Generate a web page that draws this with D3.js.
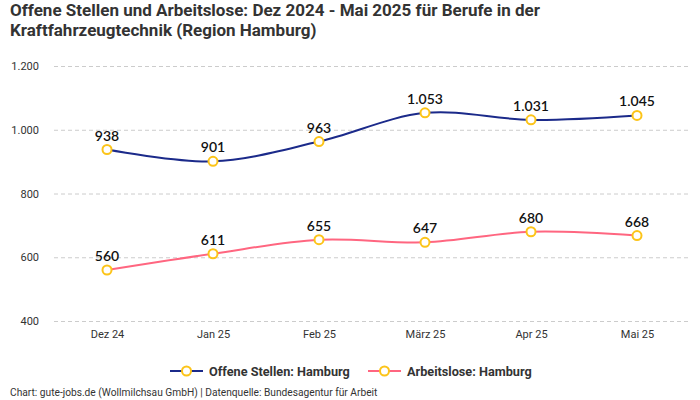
<!DOCTYPE html>
<html>
<head>
<meta charset="utf-8">
<script src="https://cdn.jsdelivr.net/npm/d3@7"></script>
<style>
  body { margin: 0; background: #fff; }
  svg { display: block; }
</style>
</head>
<body>
<script>
// chart data
const months = ["Dez 24", "Jan 25", "Feb 25", "März 25", "Apr 25", "Mai 25"];
const offeneStellen = [938, 901, 963, 1053, 1031, 1045];
const arbeitslose = [560, 611, 655, 647, 680, 668];
const yTicks = [400, 600, 800, 1000, 1200];
const seriesNames = ["Offene Stellen: Hamburg", "Arbeitslose: Hamburg"];
const titleLines = ["Offene Stellen und Arbeitslose: Dez 2024 - Mai 2025 für Berufe in der",
                    "Kraftfahrzeugtechnik (Region Hamburg)"];

const w = 700, h = 400;
const colors = ["#1b2a8a", "#ff6680"];
const markerColor = "#fcc419";
const fmt = d3.formatLocale({decimal: ",", thousands: ".", grouping: [3], currency: ["", "€"]}).format(",");

const svg = d3.select("body").append("svg")
  .attr("width", w)
  .attr("height", h);

// title, one text per line
svg.selectAll(".title")
  .data(titleLines)
  .enter()
  .append("text")
  .attr("class", "title")
  .attr("x", 10)
  .attr("y", (d, i) => 16 + i * 19.5)
  .attr("font-family", "Roboto, sans-serif")
  .attr("font-weight", "bold")
  .attr("font-size", 17)
  .attr("fill", "#333")
  .text(d => d);

const xScale = d3.scalePoint()
  .domain(months)
  .range([54, 690])
  .padding(0.5);

const yScale = d3.scaleLinear()
  .domain([400, 1200])
  .range([321, 66]);

// grid lines
svg.append("g")
  .selectAll("line")
  .data(yTicks)
  .enter()
  .append("line")
  .attr("x1", 54)
  .attr("x2", 690)
  .attr("y1", d => yScale(d) + 0.5)
  .attr("y2", d => yScale(d) + 0.5)
  .attr("stroke", "#cccccc")
  .attr("stroke-dasharray", "4,3");

// y axis labels
const yAxis = d3.axisLeft(yScale)
  .tickValues(yTicks)
  .tickFormat(fmt)
  .tickSize(0)
  .tickPadding(0);
svg.append("g")
  .attr("transform", "translate(39,0)")
  .call(yAxis)
  .call(g => g.select(".domain").remove())
  .selectAll("text")
  .attr("font-family", "Roboto, sans-serif")
  .attr("font-size", 11)
  .attr("fill", "#333");

// x axis labels
const xAxis = d3.axisBottom(xScale).tickSize(0).tickPadding(0);
svg.append("g")
  .attr("transform", "translate(0,330)")
  .call(xAxis)
  .call(g => g.select(".domain").remove())
  .selectAll("text")
  .attr("font-family", "Roboto, sans-serif")
  .attr("font-size", 11)
  .attr("fill", "#333");

const line = d3.line()
  .x((d, i) => xScale(months[i]))
  .y(d => yScale(d))
  .curve(d3.curveCatmullRom.alpha(0.5));

[offeneStellen, arbeitslose].forEach((series, s) => {
  svg.append("path")
    .datum(series)
    .attr("d", line)
    .attr("fill", "none")
    .attr("stroke", colors[s])
    .attr("stroke-width", 2);

  svg.append("g")
    .selectAll("circle")
    .data(series)
    .enter()
    .append("circle")
    .attr("cx", (d, i) => xScale(months[i]))
    .attr("cy", d => yScale(d))
    .attr("r", 4.5)
    .attr("fill", "#fff")
    .attr("stroke", markerColor)
    .attr("stroke-width", 2);

  svg.append("g")
    .selectAll("text")
    .data(series)
    .enter()
    .append("text")
    .attr("x", (d, i) => xScale(months[i]))
    .attr("y", d => yScale(d) - 9)
    .attr("text-anchor", "middle")
    .attr("font-family", "Lato, sans-serif")
    .attr("font-weight", 600)
    .attr("font-size", 14)
    .attr("fill", "#111")
    .text(d => fmt(d));
});

// legend
const legendX = [170, 368];
const legend = svg.selectAll(".legend")
  .data(seriesNames)
  .enter()
  .append("g")
  .attr("class", "legend")
  .attr("transform", (d, i) => "translate(" + legendX[i] + ",371)");
legend.append("line")
  .attr("x1", 0).attr("x2", 33)
  .attr("stroke", (d, i) => colors[i])
  .attr("stroke-width", 2);
legend.append("circle")
  .attr("cx", 16.5)
  .attr("r", 4.5)
  .attr("fill", "#fff")
  .attr("stroke", markerColor)
  .attr("stroke-width", 2);
legend.append("text")
  .attr("x", 39)
  .attr("y", 4.5)
  .attr("font-family", "Roboto, sans-serif")
  .attr("font-weight", "bold")
  .attr("font-size", 12.7)
  .attr("fill", "#333")
  .text(d => d);

// footer
svg.append("text")
  .attr("x", 10)
  .attr("y", 396)
  .attr("font-family", "Roboto, sans-serif")
  .attr("font-size", 10.2)
  .attr("fill", "#333")
  .text("Chart: gute-jobs.de (Wollmilchsau GmbH) | Datenquelle: Bundesagentur für Arbeit");
</script>
</body>
</html>
